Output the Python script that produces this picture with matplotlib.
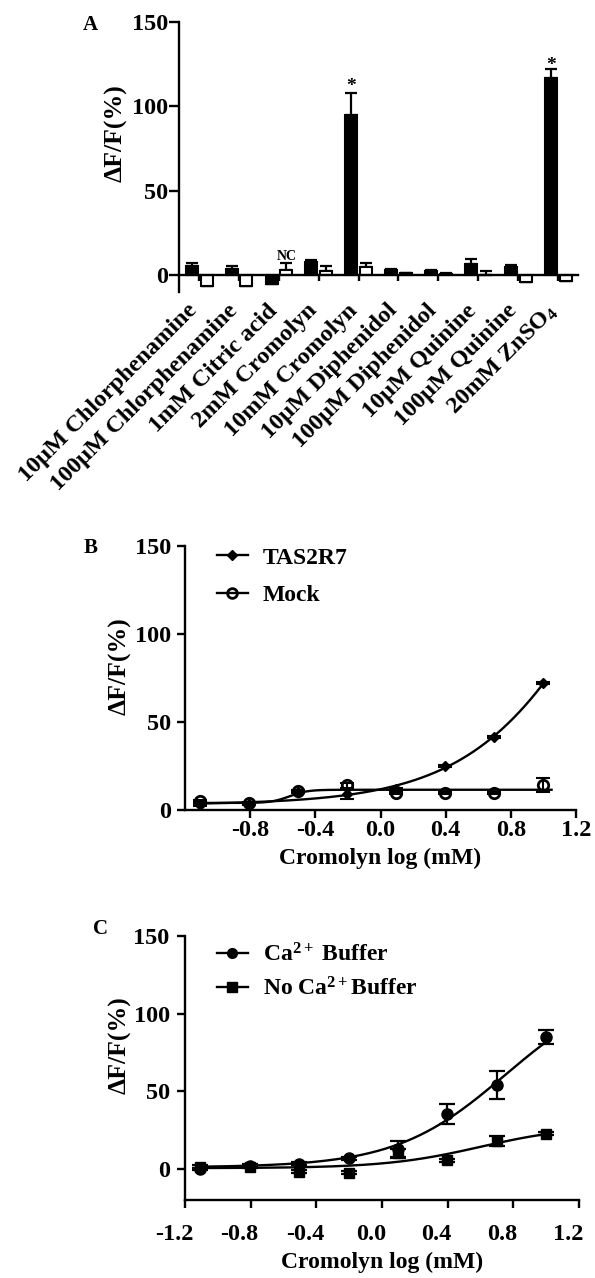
import numpy as np
import matplotlib
matplotlib.use("Agg")
import matplotlib.pyplot as plt
from matplotlib.lines import Line2D
from matplotlib.transforms import ScaledTranslation

plt.rcParams['font.family'] = ['Liberation Serif', 'DejaVu Serif']
plt.rcParams['font.weight'] = 'bold'
plt.rcParams['axes.labelweight'] = 'bold'
plt.rcParams['mathtext.fontset'] = 'custom'
plt.rcParams['mathtext.rm'] = 'Liberation Serif:bold'
plt.rcParams['mathtext.it'] = 'Liberation Serif:bold'
plt.rcParams['mathtext.bf'] = 'Liberation Serif:bold'
plt.rcParams['axes.unicode_minus'] = False

# ---- panel A data ----
compounds = ["10µM Chlorphenamine", "100µM Chlorphenamine", "1mM Citric acid",
             "2mM Cromolyn", "10mM Cromolyn", "10µM Diphenidol",
             "100µM Diphenidol", "10µM Quinine", "100µM Quinine", "20mM ZnSO$_4$"]
tas2r7_resp = [5.3, 3.5, -5.5, 8.0, 95.0, 3.2, 2.5, 6.3, 5.0, 117.0]
tas2r7_err = [2.0, 2.0, 0.0, 1.0, 13.0, 0.5, 0.5, 3.5, 1.0, 5.0]
mock_resp = [-6.5, -6.5, 3.0, 2.5, 4.9, 1.2, 0.8, 0.3, -4.0, -3.5]
mock_err = [0.0, 0.0, 4.0, 2.8, 2.1, 0.3, 0.3, 2.1, 0.0, 0.0]

# ---- panel B data ----
log_conc = [-1.107, -0.806, -0.505, -0.204, 0.097, 0.398, 0.699, 1.0]
b_tas2r7 = [3.0, 3.5, 10.0, 9.0, 12.0, 25.0, 41.5, 72.0]
b_tas2r7_err = [0.5, 0.5, 0.5, 3.0, 0.5, 0.5, 0.5, 0.5]
b_mock = [5.0, 4.0, 11.0, 14.0, 9.6, 9.6, 9.6, 14.4]
b_mock_err = [0.5, 0.5, 0.5, 1.5, 0.5, 0.5, 0.5, 4.0]
# fitted curves: bottom, top, logEC50, hill slope
b_tas2r7_fit = [3.0, 290.0, 1.5, 1.0]
b_mock_fit = [4.0, 11.5, -0.56, 8.0]

# ---- panel C data ----
c_ca = [0.0, 2.0, 3.4, 6.9, 13.0, 35.6, 54.0, 85.0]
c_ca_err = [0.5, 1.0, 1.0, 1.0, 5.0, 6.5, 9.0, 4.5]
c_noca = [1.3, 1.3, -1.7, -2.4, 10.0, 5.6, 18.0, 22.6]
c_noca_err = [1.0, 1.0, 1.0, 1.0, 3.0, 1.0, 3.0, 1.0]
c_ca_fit = [1.0, 120.0, 0.75, 1.3]
c_noca_fit = [0.5, 28.0, 0.6, 1.5]


def hill(x, p):
    b, t, ec, h = p
    return b + (t - b) / (1 + 10 ** ((ec - x) * h))


W, H = 595, 1278
fig = plt.figure(figsize=(W / 100, H / 100), dpi=100)


def px_axes(left, right, top, bottom):
    return fig.add_axes([left / W, 1 - bottom / H, (right - left) / W, (bottom - top) / H])


def style(ax):
    for s in ['top', 'right']:
        ax.spines[s].set_visible(False)
    for s in ['left', 'bottom']:
        ax.spines[s].set_linewidth(1.7)
    ax.tick_params(width=1.7, labelsize=17.5)


# ================= A =================
axA = px_axes(179, 578, 22, 292)
style(axA)
centers = np.arange(len(compounds)) + 0.5
xb = centers - 0.18
xw = centers + 0.19
axA.bar(xb, tas2r7_resp, width=0.3, color='black', edgecolor='black', linewidth=1.5, zorder=2)
axA.bar(xw, mock_resp, width=0.3, color='white', edgecolor='black', linewidth=1.5, zorder=2)
axA.errorbar(xb, tas2r7_resp, yerr=[np.zeros(10), tas2r7_err], fmt='none', ecolor='black',
             elinewidth=1.6, capsize=4, capthick=1.6, zorder=1)
axA.errorbar(xw, mock_resp, yerr=[np.zeros(10), mock_err], fmt='none', ecolor='black',
             elinewidth=1.6, capsize=4, capthick=1.6, zorder=1)
axA.set_xlim(0, 10)
axA.set_ylim(-10, 150)
axA.spines['bottom'].set_position(('data', 0))
axA.spines['left'].set_bounds(-10, 150)
axA.set_yticks([0, 50, 100, 150])
axA.tick_params(axis='y', length=7, pad=1)
axA.set_xticks(centers)
axA.set_xticklabels(compounds, rotation=45, ha='right', rotation_mode='anchor', fontsize=17.5)
axA.tick_params(axis='x', length=4, pad=14)
shiftA = ScaledTranslation(-12 / 100, 0, fig.dpi_scale_trans)
for lab in axA.get_xticklabels():
    lab.set_transform(lab.get_transform() + shiftA)
axA.set_ylabel("ΔF/F(%)", fontsize=18.5)
axA.yaxis.set_label_coords(-0.13, 0.589)
axA.text(xb[4], 111.5, "*", ha='center', va='center', fontsize=14)
axA.text(xb[9], 124.0, "*", ha='center', va='center', fontsize=14)
axA.text(xw[2], 7.0, "NC", ha='center', va='bottom', fontsize=10)

# ================= B =================
axB = px_axes(185, 576, 546, 810)
style(axB)
xfB = np.linspace(log_conc[0], 1.0, 300)
xfBm = np.linspace(log_conc[0], 1.05, 300)
axB.plot(xfB, hill(xfB, b_tas2r7_fit), color='black', lw=1.7)
axB.plot(xfBm, hill(xfBm, b_mock_fit), color='black', lw=1.7)
axB.errorbar(log_conc, b_tas2r7, yerr=b_tas2r7_err, fmt='none', ecolor='black',
             elinewidth=1.5, capsize=5, capthick=1.5)
axB.errorbar(log_conc, b_mock, yerr=b_mock_err, fmt='none', ecolor='black',
             elinewidth=1.5, capsize=5, capthick=1.5)
axB.plot(log_conc, b_tas2r7, 'D', color='black', ms=5.5, ls='none', zorder=3)
axB.plot(log_conc, b_mock, 'o', mfc='none', mec='black', mew=2, ms=7.5, ls='none', zorder=3)
axB.set_xlim(-1.2, 1.2)
axB.set_ylim(0, 150)
axB.set_xticks([-0.8, -0.4, 0.0, 0.4, 0.8, 1.2])
axB.set_xticklabels(["%.1f" % v for v in [-0.8, -0.4, 0.0, 0.4, 0.8, 1.2]])
axB.set_yticks([0, 50, 100, 150])
axB.tick_params(axis='both', length=6)
axB.tick_params(axis='y', pad=4)
axB.tick_params(axis='x', pad=1)
axB.set_xlabel("Cromolyn log (mM)", fontsize=17, labelpad=5)
axB.set_ylabel("ΔF/F(%)", fontsize=18.5)
axB.yaxis.set_label_coords(-0.136, 0.545)
hB = [Line2D([], [], color='black', lw=1.7, marker='D', ms=5),
      Line2D([], [], color='black', lw=1.7, marker='o', mfc='none', mew=2, ms=7)]
axB.legend(hB, ["TAS2R7", "Mock"], loc='upper left', bbox_to_anchor=(0.082, 0.996),
           frameon=False, fontsize=17, handlelength=1.3, handletextpad=0.65,
           labelspacing=0.68, borderpad=0, borderaxespad=0)

# ================= C =================
axC = px_axes(185, 579, 936, 1200)
style(axC)
xfC = np.linspace(log_conc[0], 1.02, 300)
axC.plot(xfC, hill(xfC, c_ca_fit), color='black', lw=1.7)
axC.plot(xfC, hill(xfC, c_noca_fit), color='black', lw=1.7)
axC.errorbar(log_conc, c_ca, yerr=c_ca_err, fmt='none', ecolor='black',
             elinewidth=1.6, capsize=5.5, capthick=1.6)
axC.errorbar(log_conc, c_noca, yerr=c_noca_err, fmt='none', ecolor='black',
             elinewidth=1.6, capsize=5.5, capthick=1.6)
axC.plot(log_conc, c_ca, 'o', color='black', ms=8, ls='none', zorder=3)
axC.plot(log_conc, c_noca, 's', color='black', ms=7.5, ls='none', zorder=3)
axC.set_xlim(-1.2, 1.2)
axC.set_ylim(-20, 150)
cticks = [-1.2, -0.8, -0.4, 0.0, 0.4, 0.8, 1.2]
axC.set_xticks(cticks)
axC.set_xticklabels(["%.1f" % v for v in cticks])
axC.set_yticks([0, 50, 100, 150])
axC.tick_params(axis='both', length=6)
axC.tick_params(axis='y', pad=5)
axC.tick_params(axis='x', pad=11)
shift = ScaledTranslation(-11 / 100, 0, fig.dpi_scale_trans)
for lab in axC.get_xticklabels():
    lab.set_transform(lab.get_transform() + shift)
axC.set_xlabel("Cromolyn log (mM)", fontsize=17, labelpad=5)
axC.set_ylabel("ΔF/F(%)", fontsize=18.5)
axC.yaxis.set_label_coords(-0.135, 0.587)
hC = [Line2D([], [], color='black', lw=1.7, marker='o', ms=7),
      Line2D([], [], color='black', lw=1.7, marker='s', ms=6.5)]
axC.legend(hC, ["Ca$^{2+}$ Buffer", "No Ca$^{2+}$Buffer"], loc='upper left',
           bbox_to_anchor=(0.081, 0.973), frameon=False, fontsize=17, handlelength=1.3,
           handletextpad=0.65, labelspacing=0.45, borderpad=0, borderaxespad=0)

# panel letters
fig.text(90 / W, 1 - 25 / H, "A", ha='center', va='center', fontsize=15)
fig.text(91 / W, 1 - 548 / H, "B", ha='center', va='center', fontsize=15)
fig.text(100 / W, 1 - 929 / H, "C", ha='center', va='center', fontsize=15)

fig.savefig("out.png", dpi=100)
